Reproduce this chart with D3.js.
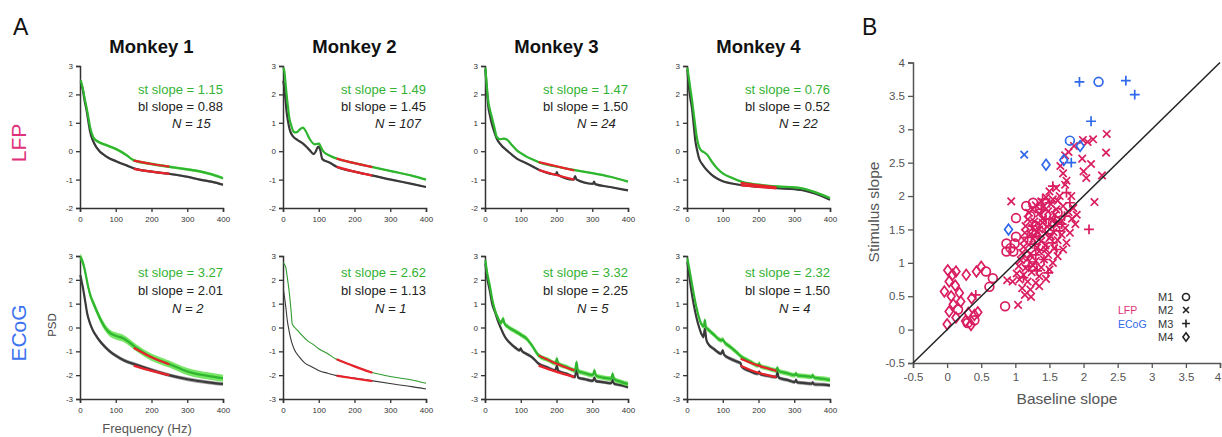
<!DOCTYPE html>
<html><head><meta charset="utf-8">
<script src="https://cdn.jsdelivr.net/npm/d3@7"></script>
<style>body{margin:0;background:#fff;} svg{display:block;font-family:"Liberation Sans",Arial,Helvetica,sans-serif;}</style>
</head><body><svg id="c" width="1222" height="437"></svg>
<script>
// ================= DATA =================
const monkeys = ["Monkey 1","Monkey 2","Monkey 3","Monkey 4"];
const rowNames = ["LFP","ECoG"];
const stSlopeLfp = ["1.15","1.49","1.47","0.76"];
const blSlopeLfp = ["0.88","1.45","1.50","0.52"];
const nLfp = ["15","107","24","22"];
const stSlopeEcog = ["3.27","2.62","3.32","2.32"];
const blSlopeEcog = ["2.01","1.13","2.25","1.50"];
const nEcog = ["2","1","5","4"];
const freqTicks = [0,100,200,300,400];
const lfpYTicks = [-2,-1,0,1,2,3];
const ecogYTicks = [-3,-2,-1,0,1,2,3];
const lfpStSem = [0.05,0.03,0.03,0.03];
const lfpBlSem = [0.04,0.03,0.03,0.03];
const ecogStSem = [0.15,0,0.1,0.1];
const ecogBlSem = [0.08,0,0.07,0.08];

// [frequency (Hz), log PSD]
const lfpM1St = [[2,2.5],[8,2.2],[14,1.8],[19,1.5],[24,1.15],[28,0.86],[37,0.49],[45,0.38],[56,0.3],[80,0.18],[102,0.07],[115,-0.02],[130,-0.14],[150,-0.32],[200,-0.45],[251,-0.55],[300,-0.64],[335,-0.71],[370,-0.82],[400,-0.95]];
const lfpM1Bl = [[2,2.44],[8,2.15],[14,1.7],[19,1.4],[24,1.0],[28,0.7],[37,0.35],[47,0.12],[74,-0.19],[102,-0.36],[130,-0.5],[158,-0.63],[200,-0.72],[251,-0.8],[300,-0.9],[335,-1.0],[370,-1.08],[400,-1.18]];
const lfpM2St = [[1,2.94],[4,2.8],[7,2.4],[10,2.0],[14,1.55],[18,1.15],[23,0.91],[28,0.72],[33,0.66],[40,0.68],[48,0.78],[56,0.83],[63,0.72],[75,0.42],[89,0.24],[96,0.26],[101,0.27],[106,0.15],[112,0.0],[130,-0.15],[150,-0.26],[200,-0.42],[248,-0.55],[309,-0.72],[360,-0.86],[400,-1.0]];
const lfpM2Bl = [[1,2.48],[4,2.2],[7,1.8],[10,1.4],[14,1.05],[19,0.75],[28,0.52],[40,0.4],[56,0.27],[75,0.03],[86,-0.1],[92,0.0],[97,0.14],[100,0.16],[104,0.05],[110,-0.28],[130,-0.4],[150,-0.55],[200,-0.72],[248,-0.85],[309,-1.02],[360,-1.15],[400,-1.26]];
const lfpM3St = [[1,2.94],[5,2.3],[9,1.78],[14,1.45],[19,1.2],[26,0.85],[33,0.5],[42,0.42],[52,0.44],[61,0.41],[75,0.22],[89,0.03],[103,-0.09],[117,-0.2],[135,-0.3],[152,-0.4],[200,-0.54],[248,-0.66],[304,-0.78],[350,-0.9],[400,-1.07]];
const lfpM3Bl = [[1,2.88],[5,2.2],[9,1.6],[14,1.25],[19,0.97],[26,0.68],[33,0.44],[45,0.22],[60,0.04],[75,-0.12],[89,-0.26],[117,-0.43],[152,-0.66],[198,-0.82],[201,-0.74],[204,-0.83],[248,-1.0],[252,-0.88],[256,-1.0],[302,-1.15],[305,-1.07],[308,-1.16],[350,-1.26],[400,-1.38]];
const lfpM4St = [[1,2.94],[5,2.6],[9,2.24],[14,1.8],[19,1.3],[23,0.9],[28,0.45],[33,0.18],[40,0.02],[47,-0.03],[56,-0.12],[70,-0.38],[84,-0.6],[100,-0.78],[122,-0.92],[154,-1.08],[200,-1.18],[252,-1.24],[318,-1.3],[360,-1.45],[400,-1.65]];
const lfpM4Bl = [[1,2.88],[5,2.3],[9,1.9],[14,1.5],[19,0.9],[23,0.4],[28,0.05],[33,-0.22],[45,-0.5],[56,-0.67],[70,-0.84],[84,-0.96],[100,-1.06],[122,-1.13],[154,-1.2],[200,-1.25],[252,-1.3],[318,-1.36],[360,-1.5],[400,-1.71]];
const ecogM1St = [[1,2.96],[5,2.85],[9,2.68],[15,2.3],[23,1.7],[30,1.3],[38,1.0],[47,0.68],[56,0.38],[70,0.0],[85,-0.25],[100,-0.35],[122,-0.46],[140,-0.65],[160,-0.88],[198,-1.23],[249,-1.53],[301,-1.85],[358,-2.03],[400,-2.13]];
const ecogM1Bl = [[1,2.2],[5,1.9],[9,1.6],[14,1.15],[20,0.6],[28,0.17],[37,-0.15],[47,-0.39],[60,-0.65],[85,-1.02],[100,-1.18],[122,-1.37],[160,-1.58],[200,-1.78],[249,-2.0],[301,-2.17],[358,-2.3],[400,-2.37]];
const ecogM2St = [[1,2.72],[5,2.62],[8,2.51],[12,2.1],[17,1.54],[22,0.8],[26,0.14],[33,0.0],[40,-0.11],[50,-0.28],[69,-0.56],[85,-0.72],[101,-0.9],[125,-1.1],[148,-1.32],[200,-1.62],[247,-1.88],[313,-2.09],[360,-2.2],[400,-2.34]];
const ecogM2Bl = [[1,1.6],[4,1.3],[8,0.84],[12,0.3],[17,-0.14],[24,-0.6],[31,-0.9],[45,-1.22],[59,-1.46],[80,-1.65],[101,-1.81],[125,-1.92],[150,-2.02],[200,-2.12],[247,-2.23],[313,-2.38],[360,-2.48],[400,-2.58]];
const ecogM3St = [[1,2.83],[6,2.3],[14,1.71],[20,1.2],[28,0.72],[38,0.35],[45,0.18],[48,0.3],[51,0.37],[54,0.18],[65,0.02],[80,-0.12],[95,-0.25],[103,-0.33],[115,-0.45],[131,-0.75],[150,-1.17],[175,-1.35],[197,-1.5],[201,-1.31],[205,-1.52],[230,-1.67],[252,-1.8],[256,-1.45],[260,-1.82],[280,-1.92],[302,-2.0],[306,-1.8],[310,-2.02],[330,-2.1],[353,-2.15],[357,-1.94],[361,-2.17],[380,-2.28],[400,-2.37]];
const ecogM3Bl = [[1,2.69],[6,2.1],[14,1.5],[20,1.0],[28,0.65],[38,0.2],[47,-0.12],[56,-0.4],[70,-0.65],[85,-0.85],[97,-0.96],[100,-0.88],[103,-0.98],[115,-1.1],[131,-1.24],[150,-1.52],[175,-1.68],[197,-1.8],[201,-1.6],[205,-1.82],[230,-1.95],[252,-2.08],[256,-1.52],[260,-2.1],[280,-2.17],[302,-2.24],[306,-2.1],[310,-2.25],[330,-2.29],[353,-2.34],[357,-2.2],[361,-2.36],[380,-2.42],[400,-2.5]];
const ecogM4St = [[1,2.9],[6,2.5],[12,1.99],[19,1.4],[26,0.87],[33,0.45],[40,0.15],[47,0.05],[50,0.31],[53,0.0],[59,-0.08],[75,-0.3],[96,-0.54],[100,-0.5],[104,-0.6],[120,-0.8],[143,-1.1],[150,-1.2],[175,-1.42],[199,-1.59],[202,-1.5],[205,-1.62],[225,-1.7],[250,-1.8],[253,-1.68],[256,-1.82],[280,-1.92],[302,-2.0],[305,-1.92],[308,-2.01],[330,-2.04],[349,-2.07],[352,-2.0],[355,-2.1],[380,-2.15],[400,-2.2]];
const ecogM4Bl = [[1,2.76],[6,2.2],[12,1.57],[19,0.95],[26,0.45],[33,0.05],[40,-0.26],[46,-0.4],[50,-0.05],[54,-0.5],[59,-0.68],[75,-0.9],[96,-1.1],[100,-0.96],[104,-1.15],[120,-1.3],[143,-1.45],[150,-1.5],[153,-1.65],[175,-1.82],[199,-1.94],[202,-1.85],[205,-1.96],[225,-2.02],[250,-2.08],[253,-1.8],[256,-2.1],[280,-2.2],[302,-2.29],[305,-2.2],[308,-2.3],[330,-2.33],[349,-2.36],[352,-2.3],[355,-2.38],[380,-2.4],[400,-2.43]];

// power-law fits over 150-250 Hz
const lfpStFits = [[[150,-0.33],[200,-0.45],[250,-0.54]],[[150,-0.26],[200,-0.42],[250,-0.56]],[[150,-0.38],[200,-0.53],[250,-0.68]],[[150,-1.12],[200,-1.2],[250,-1.27]]];
const lfpBlFits = [[[150,-0.62],[200,-0.72],[250,-0.8]],[[150,-0.55],[200,-0.72],[250,-0.86]],[[150,-0.66],[200,-0.84],[250,-1.0]],[[150,-1.2],[200,-1.26],[250,-1.31]]];
const ecogStFits = [[[150,-0.85],[200,-1.25],[250,-1.55]],[[150,-1.33],[200,-1.63],[250,-1.9]],[[150,-1.17],[200,-1.52],[250,-1.8]],[[150,-1.31],[200,-1.6],[250,-1.82]]];
const ecogBlFits = [[[150,-1.6],[200,-1.82],[250,-2.0]],[[150,-2.02],[200,-2.14],[250,-2.25]],[[150,-1.6],[200,-1.86],[250,-2.07]],[[150,-1.6],[200,-1.9],[250,-2.08]]];

// ---- Panel B: [baseline slope, stimulus slope] ----
const scatterTicks = [-0.5,0,0.5,1,1.5,2,2.5,3,3.5,4];
const lfpM1 = [[0.57,0.87],[0.67,0.77],[0.62,0.64],[0.85,0.35],[1.01,1.67],[0.87,1.29],[0.99,1.29],[0.87,1.17],[0.97,1.17],[1.01,1.39],[0.93,1.22],[0.30,0.10],[0.40,0.14],[0.16,0.30],[1.16,1.85],[1.26,1.90],[1.36,1.80],[1.22,1.70],[1.45,1.72],[1.18,1.10],[1.25,0.95],[1.50,1.50],[1.62,1.75],[1.40,1.25],[1.30,1.55],[1.55,1.60]];
const lfpM2 = [[1.73,2.61],[1.78,2.66],[1.86,2.75],[1.99,2.84],[2.06,2.81],[2.14,2.85],[2.34,2.93],[2.33,2.65],[1.98,2.56],[2.11,2.48],[2.00,2.37],[2.04,2.27],[2.27,2.31],[1.75,2.23],[1.73,2.17],[1.70,2.34],[1.66,2.45],[1.60,2.12],[1.65,2.00],[1.82,2.00],
 [0.94,1.92],[2.16,1.91],[1.04,0.37],[1.14,0.52],[1.23,0.49],[0.88,0.74],
 [1.50,2.07],[1.55,1.95],[1.45,1.98],[1.38,1.92],[1.62,1.93],
 [1.30,1.86],[1.42,1.85],[1.52,1.88],[1.70,1.85],[1.85,1.82],[1.25,1.80],
 [1.20,1.75],[1.35,1.74],[1.48,1.77],[1.58,1.72],[1.78,1.76],[1.90,1.72],
 [1.18,1.65],[1.28,1.62],[1.40,1.66],[1.55,1.64],[1.68,1.63],[1.83,1.66],
 [1.15,1.55],[1.25,1.52],[1.36,1.56],[1.47,1.54],[1.60,1.57],[1.73,1.52],[1.88,1.58],
 [1.14,1.45],[1.22,1.43],[1.32,1.47],[1.44,1.44],[1.56,1.46],[1.68,1.42],[1.80,1.45],
 [1.13,1.34],[1.26,1.36],[1.38,1.33],[1.50,1.37],[1.62,1.34],[1.75,1.30],
 [1.12,1.24],[1.20,1.27],[1.32,1.23],[1.44,1.26],[1.57,1.22],[1.70,1.20],
 [1.10,1.15],[1.22,1.13],[1.35,1.17],[1.48,1.12],[1.62,1.10],
 [1.08,1.04],[1.18,1.06],[1.30,1.03],[1.42,1.05],[1.55,1.00],
 [1.05,0.95],[1.15,0.92],[1.26,0.96],[1.38,0.93],[1.50,0.90],
 [1.02,0.84],[1.12,0.82],[1.24,0.86],[1.35,0.80],
 [0.96,0.72],[1.06,0.75],[1.18,0.72],[1.30,0.70],[1.45,0.76],
 [1.10,0.62],[1.22,0.60],[1.35,0.65],
 [1.40,1.60],[1.52,1.40],[1.28,1.40],[1.45,1.20],[1.35,1.50],[1.60,1.80]];
const lfpM3 = [[2.08,1.50],[1.30,1.12],[1.45,1.65],[1.55,1.30],[1.65,1.48],[1.38,1.80],[1.20,0.95],[1.50,1.90],[1.72,1.70],[1.25,1.55],[1.42,1.05],[1.60,1.20],[1.12,0.78],[1.35,1.40],[1.55,2.15],[1.80,1.90],[1.48,0.85],[1.28,1.28],[1.68,1.58],[1.40,1.95],[1.18,1.38],[1.58,1.62],[1.32,0.88],[1.75,2.05],[0.42,0.52]];
const lfpM4 = [[0.01,0.89],[0.08,0.82],[0.13,0.87],[0.03,0.72],[-0.04,0.57],[0.12,0.66],[0.06,0.50],[0.18,0.55],[0.09,0.38],[0.03,0.27],[0.00,0.08],[0.13,0.18],[0.28,0.82],[0.43,0.87],[0.50,0.94],[0.27,0.13],[0.35,0.07],[0.40,0.22],[0.45,0.26],[0.31,0.25],[0.20,0.42],[0.36,0.47]];
const ecogM1 = [[2.22,3.71],[1.80,2.83]];
const ecogM2 = [[1.13,2.62]];
const ecogM3 = [[1.94,3.71],[2.62,3.73],[2.75,3.52],[2.11,3.12],[1.82,2.50]];
const ecogM4 = [[1.95,2.75],[1.45,2.47],[1.71,2.54],[0.90,1.50]];
const legendMonkeys = ["M1","M2","M3","M4"];
const legendShapes = ["circle","x","plus","diamond"];
const legendTypes = ["LFP","ECoG"];

// ================= STYLE / LAYOUT =================
const GREEN = "#2fb52f", GREEN_BAND = "#5fe04a", DARK = "#3a3a3a", GRAY_BAND = "#8a8a8a", RED = "#e8232b";
const PINK = "#d91d60", BLUE = "#2f68ea";
const colX = [80,283,485,687], PW = 143;
const rows = [
  {yDom:[-2,3], yRng:[208,66], ticks:lfpYTicks, st:[lfpM1St,lfpM2St,lfpM3St,lfpM4St], bl:[lfpM1Bl,lfpM2Bl,lfpM3Bl,lfpM4Bl],
   stFit:lfpStFits, blFit:lfpBlFits, stSem:lfpStSem, blSem:lfpBlSem, stTxt:stSlopeLfp, blTxt:blSlopeLfp, nTxt:nLfp,
   textY:[93.5,110.5,127.5], lw:[2.2,2.2,2.2,2.2], labelY:143, labelColor:"#e0307a"},
  {yDom:[-3,3], yRng:[399,256], ticks:ecogYTicks, st:[ecogM1St,ecogM2St,ecogM3St,ecogM4St], bl:[ecogM1Bl,ecogM2Bl,ecogM3Bl,ecogM4Bl],
   stFit:ecogStFits, blFit:ecogBlFits, stSem:ecogStSem, blSem:ecogBlSem, stTxt:stSlopeEcog, blTxt:blSlopeEcog, nTxt:nEcog,
   textY:[277,295,312.5], lw:[2.2,1.1,2.2,2.2], labelY:333, labelColor:"#3d73f0"}
];

const svg = d3.select("#c");

// ---- Panel A ----
svg.append("text").attr("x",13).attr("y",35).attr("font-size",23).attr("fill","#111").text("A");
rows.forEach((row,ri)=>{
  svg.append("text").attr("transform",`translate(26,${row.labelY}) rotate(-90)`).attr("text-anchor","middle")
     .attr("font-size",21).attr("fill",row.labelColor).text(rowNames[ri]);
  colX.forEach((x0,ci)=>{
    const x = d3.scaleLinear().domain([0,400]).range([x0,x0+PW]);
    const y = d3.scaleLinear().domain(row.yDom).range(row.yRng);
    const g = svg.append("g");
    const yAx = g.append("g").attr("transform",`translate(${x0},0)`)
      .call(d3.axisLeft(y).tickValues(row.ticks).tickSize(4).tickPadding(3).tickFormat(d=>String(d)));
    const xAx = g.append("g").attr("transform",`translate(0,${row.yRng[0]})`)
      .call(d3.axisBottom(x).tickValues(freqTicks).tickSize(4).tickPadding(4).tickFormat(d=>String(d)));
    [yAx,xAx].forEach(a=>{
      a.select(".domain").attr("stroke","#333").attr("stroke-width",1.5);
      a.selectAll(".tick line").attr("stroke","#333").attr("stroke-width",1.3);
      a.selectAll("text").attr("font-size",8).attr("fill","#333").attr("font-family","Liberation Sans, Arial, sans-serif");
    });
    const line = d3.line().x(d=>x(d[0])).y(d=>y(d[1])).curve(d3.curveMonotoneX);
    const area = w => d3.area().x(d=>x(d[0])).y0(d=>y(d[1]-w)).y1(d=>y(d[1]+w)).curve(d3.curveMonotoneX);
    const lw = row.lw[ci];
    if (row.blSem[ci]>0) g.append("path").attr("d",area(row.blSem[ci])(row.bl[ci])).attr("fill",GRAY_BAND).attr("opacity",0.8);
    g.append("path").attr("d",line(row.bl[ci])).attr("fill","none").attr("stroke",DARK).attr("stroke-width",lw);
    if (row.stSem[ci]>0) g.append("path").attr("d",area(row.stSem[ci])(row.st[ci])).attr("fill",GREEN_BAND).attr("opacity",0.85);
    g.append("path").attr("d",line(row.st[ci])).attr("fill","none").attr("stroke",ri===1&&ci===1?"#2e9a2e":GREEN).attr("stroke-width",lw);
    [row.stFit[ci],row.blFit[ci]].forEach(f=>{
      g.append("path").attr("d",line(f)).attr("fill","none").attr("stroke",RED).attr("stroke-width",2.2);
    });
    const xr = x0+PW;
    g.append("text").attr("x",xr).attr("y",row.textY[0]).attr("text-anchor","end").attr("font-size",13).attr("fill","#33b233").text("st slope = "+row.stTxt[ci]);
    g.append("text").attr("x",xr).attr("y",row.textY[1]).attr("text-anchor","end").attr("font-size",13).attr("fill","#222").text("bl slope = "+row.blTxt[ci]);
    g.append("text").attr("x",xr-51).attr("y",row.textY[2]).attr("font-size",13).attr("font-style","italic").attr("fill","#222").text("N = "+row.nTxt[ci]);
    if (ri===0) svg.append("text").attr("x",x0+PW/2).attr("y",53).attr("text-anchor","middle").attr("font-size",18.5).attr("font-weight","bold").attr("fill","#111").text(monkeys[ci]);
  });
});
svg.append("text").attr("transform","translate(56,325) rotate(-90)").attr("text-anchor","middle").attr("font-size",11.5).attr("fill","#444").text("PSD");
svg.append("text").attr("x",147).attr("y",433).attr("text-anchor","middle").attr("font-size",13).attr("fill","#555").text("Frequency (Hz)");

// ---- Panel B ----
svg.append("text").attr("x",862).attr("y",35).attr("font-size",23).attr("fill","#111").text("B");
const xB = d3.scaleLinear().domain([-0.5,4]).range([913,1220]);
const yB = d3.scaleLinear().domain([-0.5,4]).range([363,62.5]);
const gB = svg.append("g");
const xAxB = gB.append("g").attr("transform","translate(0,363)").call(d3.axisBottom(xB).tickValues(scatterTicks).tickSize(5).tickPadding(5).tickFormat(d=>String(d)));
const yAxB = gB.append("g").attr("transform","translate(913,0)").call(d3.axisLeft(yB).tickValues(scatterTicks).tickSize(5).tickPadding(3).tickFormat(d=>String(d)));
[xAxB,yAxB].forEach(a=>{
  a.select(".domain").attr("stroke","#555").attr("stroke-width",1.5);
  a.selectAll(".tick line").attr("stroke","#555").attr("stroke-width",1.3);
  a.selectAll("text").attr("font-size",11.5).attr("fill","#555").attr("font-family","Liberation Sans, Arial, sans-serif");
});
// keep the last x tick label inside the canvas
xAxB.selectAll(".tick text").filter(d=>d===4).attr("dx",-2.5);
function shapePath(t,s){
  s = s||1;
  if (t==="circle"){const r=4.4*s; return `M${r},0A${r},${r} 0 1,1 ${-r},0A${r},${r} 0 1,1 ${r},0Z`;}
  if (t==="x"){const a=3.7*s; return `M${-a},${-a}L${a},${a}M${-a},${a}L${a},${-a}`;}
  if (t==="plus"){const a=4.9*s; return `M${-a},0L${a},0M0,${-a}L0,${a}`;}
  const w=3.9*s,h=5.3*s; return `M0,${-h}L${w},0L0,${h}L${-w},0Z`;
}
function drawPts(arr,shape,color){
  gB.append("g").selectAll("path").data(arr).join("path")
    .attr("d",shapePath(shape)).attr("transform",d=>`translate(${xB(d[0])},${yB(d[1])})`)
    .attr("fill","none").attr("stroke",color).attr("stroke-width",1.7);
}
drawPts(lfpM4,"diamond",PINK);
drawPts(lfpM1,"circle",PINK);
drawPts(lfpM2,"x",PINK);
drawPts(lfpM3,"plus",PINK);
drawPts(ecogM1,"circle",BLUE);
drawPts(ecogM2,"x",BLUE);
drawPts(ecogM3,"plus",BLUE);
drawPts(ecogM4,"diamond",BLUE);
gB.append("line").attr("x1",xB(-0.5)).attr("y1",yB(-0.5)).attr("x2",xB(4)).attr("y2",yB(4)).attr("stroke","#222").attr("stroke-width",1.5);
svg.append("text").attr("x",1067).attr("y",404).attr("text-anchor","middle").attr("font-size",15.5).attr("fill","#555").text("Baseline slope");
svg.append("text").attr("transform","translate(879,212) rotate(-90)").attr("text-anchor","middle").attr("font-size",15.5).attr("fill","#555").text("Stimulus slope");
// legend
const legY = [297,310,323.5,337];
legendMonkeys.forEach((m,i)=>{
  svg.append("text").attr("x",1158).attr("y",legY[i]+4).attr("font-size",11).attr("fill","#333").text(m);
  svg.append("path").attr("d",shapePath(legendShapes[i],0.8)).attr("transform",`translate(1186,${legY[i]})`)
    .attr("fill","none").attr("stroke","#222").attr("stroke-width",1.6);
});
legendTypes.forEach((t,i)=>{
  svg.append("text").attr("x",1118).attr("y",legY[i+1]+4).attr("font-size",10.5).attr("fill",i===0?"#e0307a":BLUE).text(t);
});
</script>
</body></html>
